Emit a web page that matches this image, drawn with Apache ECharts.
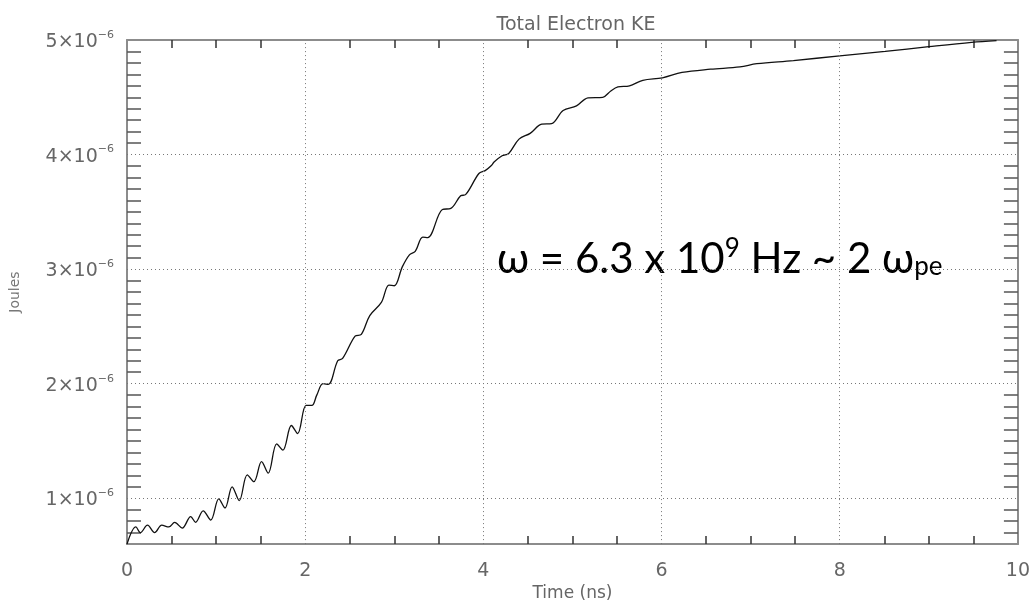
<!DOCTYPE html>
<html>
<head>
<meta charset="utf-8">
<script src="https://cdn.jsdelivr.net/npm/echarts@6/dist/echarts.min.js"></script>
<style>
html,body{margin:0;padding:0;background:#fff;}
#chart{width:1033px;height:607px;}
</style>
</head>
<body>
<div id="chart"></div>
<script>
// Time axis (ns)
const timeNs = [0.00,0.10,0.15,0.23,0.31,0.39,0.47,0.535,0.62,0.715,0.77,0.855,0.94,1.03,1.10,1.18,1.26,1.35,1.425,1.51,1.585,1.68,1.75,1.845,1.915,2.01,2.075,2.13,2.20,2.26,2.365,2.42,2.56,2.63,2.725,2.855,2.94,3.00,3.09,3.17,3.235,3.32,3.375,3.54,3.635,3.745,3.80,3.95,4.02,4.09,4.12,4.21,4.285,4.40,4.525,4.655,4.765,4.895,5.045,5.175,5.34,5.43,5.51,5.64,5.79,6.01,6.23,6.55,6.88,7.07,7.48,8.00,8.51,9.00,9.48,9.76];
// Total electron KE, in units of 1e-6 J
const keMicroJ = [0.60,0.75,0.70,0.765,0.70,0.765,0.75,0.79,0.74,0.84,0.79,0.89,0.81,0.995,0.915,1.10,0.98,1.205,1.145,1.32,1.22,1.475,1.42,1.635,1.565,1.81,1.81,1.90,2.00,1.995,2.20,2.22,2.415,2.43,2.595,2.71,2.86,2.855,3.02,3.125,3.155,3.28,3.275,3.52,3.53,3.64,3.65,3.835,3.86,3.905,3.935,3.99,4.01,4.135,4.185,4.265,4.27,4.385,4.425,4.495,4.50,4.555,4.59,4.60,4.648,4.67,4.717,4.745,4.765,4.793,4.82,4.862,4.90,4.942,4.98,4.995];
// Tick labels
const xTickLabels = [0,2,4,6,8,10];
const yTickLabels = [1,2,3,4,5];
const xGridValues = [2,4,6,8];
const yGridValues = [1,2,3,4];

const xMinor = [];
for (let i = 1; i < 20; i++) { if (i % 4 !== 0) xMinor.push(i * 0.5); }
const yMinor = [];
for (let i = 7; i < 50; i++) { if (i % 10 !== 0) yMinor.push(i / 10); }

const seriesData = timeNs.map((t, i) => [t, keMicroJ[i]]);

const FONT = 'DejaVu Sans';
const axisLineStyle = {color: '#8c8c8c', width: 2};

const chart = echarts.init(document.getElementById('chart'), null, {renderer: 'canvas'});
chart.setOption({
  animation: false,
  backgroundColor: '#fff',
  title: {
    text: 'Total Electron KE',
    left: 571, top: 11, textAlign: 'center',
    textStyle: {fontFamily: FONT, fontSize: 19, fontWeight: 'normal', color: '#666'}
  },
  grid: {left: 122, top: 40, right: 13, bottom: 58},
  xAxis: [{
    type: 'value', min: 0, max: 10, position: 'bottom',
    name: 'Time (ns)', nameLocation: 'middle', nameGap: 40,
    nameTextStyle: {fontFamily: FONT, fontSize: 17, color: '#666'},
    axisLine: {show: true, onZero: false, lineStyle: axisLineStyle},
    axisTick: {show: true, inside: true, length: 8, customValues: xMinor, lineStyle: {color: '#333', width: 1.5}},
    axisLabel: {show: true, customValues: xTickLabels, margin: 17, fontFamily: FONT, fontSize: 19, color: '#666'},
    splitLine: {show: false}
  }, {
    type: 'value', min: 0, max: 10, position: 'top',
    axisLine: {show: true, onZero: false, lineStyle: axisLineStyle},
    axisTick: {show: true, inside: true, length: 8, customValues: xMinor, lineStyle: {color: '#333', width: 1.5}},
    axisLabel: {show: false},
    splitLine: {show: false}
  }],
  yAxis: [{
    type: 'value', min: 0.6, max: 5, position: 'left',
    name: 'Joules', nameLocation: 'middle', nameGap: 105,
    nameTextStyle: {fontFamily: FONT, fontSize: 14, color: '#777'},
    axisLine: {show: true, onZero: false, lineStyle: axisLineStyle},
    axisTick: {show: true, inside: true, length: 14, customValues: yMinor, lineStyle: {color: '#555', width: 1.5}},
    axisLabel: {
      show: true, customValues: yTickLabels, margin: 13,
      formatter: v => '{m|' + v + '×10}{s|−6}',
      rich: {
        m: {fontFamily: FONT, fontSize: 19, color: '#666', padding: [4, 0, 0, 0]},
        s: {fontFamily: FONT, fontSize: 11, color: '#666', padding: [0, 0, 10, 0]}
      }
    },
    splitLine: {show: false}
  }, {
    type: 'value', min: 0.6, max: 5, position: 'right',
    axisLine: {show: true, onZero: false, lineStyle: axisLineStyle},
    axisTick: {show: true, inside: true, length: 14, customValues: yMinor, lineStyle: {color: '#555', width: 1.5}},
    axisLabel: {show: false},
    splitLine: {show: false}
  }],
  series: [{
    type: 'line',
    xAxisIndex: 0, yAxisIndex: 0,
    data: seriesData,
    showSymbol: false,
    smooth: 0.35,
    lineStyle: {color: '#111', width: 1.3},
    markLine: {
      silent: true, symbol: 'none', animation: false,
      label: {show: false},
      lineStyle: {color: '#777', width: 1, type: [1, 3]},
      data: yGridValues.map(v => ({yAxis: v})).concat(xGridValues.map(v => ({xAxis: v})))
    }
  }],
  graphic: [{
    type: 'text',
    left: 497, top: 236,
    style: {
      text: 'ω = 6.3 x 10{sup|9} Hz ~ 2 ω{sub|pe}',
      rich: {
        sup: {fontFamily: 'Lato', fontSize: 26, fill: '#000', padding: [0, 0, 20, 0]},
        sub: {fontFamily: 'Lato', fontSize: 26, fill: '#000', padding: [16, 0, 0, 0]}
      },
      font: '42px Lato',
      fill: '#000'
    }
  }]
});
</script>
</body>
</html>
